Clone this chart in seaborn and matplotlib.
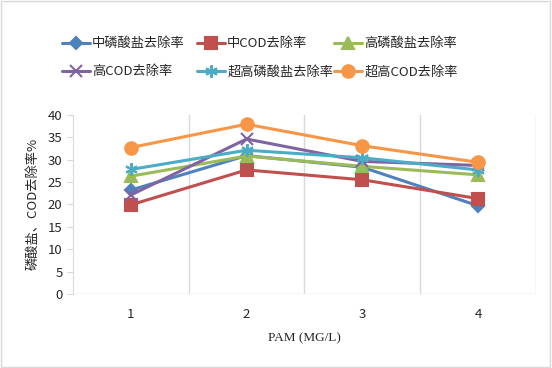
import pandas as pd
import numpy as np
import matplotlib
matplotlib.use('Agg')
import matplotlib.pyplot as plt
import matplotlib.ticker as ticker
import seaborn as sns

# data
pam = [1, 2, 3, 4]
series_names = ['中磷酸盐去除率', '中COD去除率', '高磷酸盐去除率',
                '高COD去除率', '超高磷酸盐去除率', '超高COD去除率']
mid_p = [23.2, 30.9, 28.3, 19.7]
mid_cod = [19.9, 27.7, 25.5, 21.3]
high_p = [26.3, 30.8, 28.5, 26.6]
high_cod = [22.1, 34.6, 29.6, 28.7]
xhigh_p = [27.8, 32.1, 30.4, 27.7]
xhigh_cod = [32.7, 37.9, 33.1, 29.4]

colors = ['#4F81BD', '#C0504D', '#9BBB59', '#8064A2', '#4BACC6', '#F79646']
marker_list = ['D', 's', '^', 'x', (6, 2, 0), 'o']
marker_sizes = [6, 8, 9, 9, 9, 9]

sns.set_style('white')
plt.rcParams['font.family'] = ['Noto Sans CJK SC', 'DejaVu Sans']

values = [mid_p, mid_cod, high_p, high_cod, xhigh_p, xhigh_cod]
df = pd.DataFrame({
    'pam': pam * len(series_names),
    'rate': [v for s in values for v in s],
    'series': [n for n in series_names for _ in pam],
})

fig = plt.figure(figsize=(5.52, 3.68), dpi=100)
ax = fig.add_axes([0.132, 0.201, 0.839, 0.487])

# one call per series (filled and line markers can't be mixed in one style map)
for name, c, m, ms in zip(series_names, colors, marker_list, marker_sizes):
    sns.lineplot(data=df[df.series == name], x='pam', y='rate', color=c,
                 marker=m, markersize=ms, markerfacecolor=c, markeredgecolor=c,
                 markeredgewidth=1.5, linewidth=2.2, ax=ax, label=name, legend=False)

ax.set_xlim(0.5, 4.5)
ax.set_ylim(0, 40)
ax.yaxis.set_major_locator(ticker.MultipleLocator(5))
ax.set_xticks(pam)
ax.xaxis.set_minor_locator(ticker.FixedLocator([1.5, 2.5, 3.5, 4.5]))
ax.grid(which='minor', axis='x', color='#D9D9D9', linewidth=1)
ax.grid(which='major', axis='both', visible=False)
ax.tick_params(axis='x', which='both', length=0, labelsize=9.5, pad=10)
ax.tick_params(axis='y', length=4, color='#D9D9D9', labelsize=9.5, left=True)
for s in ['top', 'right', 'bottom']:
    ax.spines[s].set_visible(False)
ax.spines['left'].set_color('#D9D9D9')
ax.axhline(0, color='#D9D9D9', linewidth=1, zorder=0)

ax.set_xlabel('PAM (MG/L)', family='Liberation Serif', fontsize=9.5, labelpad=8)
ax.set_ylabel('磷酸盐、COD去除率%', fontsize=9.5, labelpad=6)

# Excel-style legend: equal-width columns filled row by row,
# so draw one small legend per column
handles, labels = ax.get_legend_handles_labels()
col_x = [50 / 552, 185 / 552, 322 / 552]
for j, x0 in enumerate(col_x):
    idx = [j, j + 3]
    leg = fig.legend([handles[i] for i in idx], [labels[i] for i in idx],
                     loc='center left', bbox_to_anchor=(x0, 0.843),
                     frameon=False, fontsize=9.5, handlelength=2.1,
                     handletextpad=0.2, labelspacing=1.15)

fig.patches.append(plt.Rectangle((0.002, 0.003), 0.995, 0.993, transform=fig.transFigure,
                                 fill=False, edgecolor='#D9D9D9', linewidth=1))

fig.savefig('out.png', dpi=100)
